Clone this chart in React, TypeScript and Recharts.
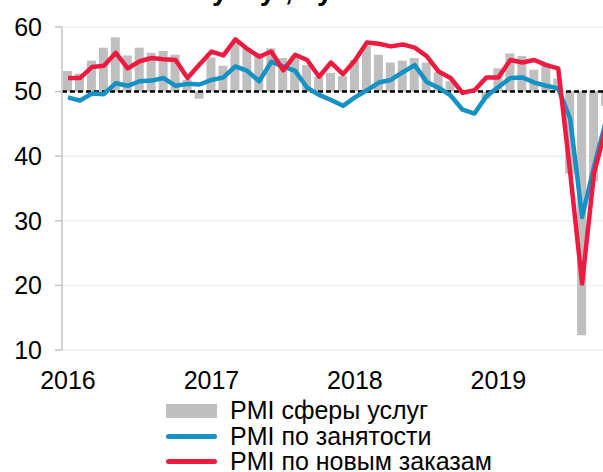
import React from 'react';
import { ComposedChart, Bar, Line, XAxis, YAxis, CartesianGrid, ReferenceLine, Legend } from 'recharts';

const months: string[] = [
  '2016-01','2016-02','2016-03','2016-04','2016-05','2016-06','2016-07','2016-08','2016-09','2016-10','2016-11','2016-12',
  '2017-01','2017-02','2017-03','2017-04','2017-05','2017-06','2017-07','2017-08','2017-09','2017-10','2017-11','2017-12',
  '2018-01','2018-02','2018-03','2018-04','2018-05','2018-06','2018-07','2018-08','2018-09','2018-10','2018-11','2018-12',
  '2019-01','2019-02','2019-03','2019-04','2019-05','2019-06','2019-07','2019-08','2019-09','2019-10',
];

const yearTicks: string[] = ['2016-01', '2017-01', '2018-01', '2019-01'];
const yTicks: number[] = [10, 20, 30, 40, 50, 60];

const services: number[] = [
  53.2, 52.8, 54.8, 56.8, 58.4, 55.6, 56.8, 56.0, 56.3, 55.7, 51.8, 48.9,
  55.3, 54.0, 57.6, 56.7, 55.9, 56.7, 55.2, 55.6, 54.1, 52.3, 52.9, 52.4,
  54.9, 57.1, 55.7, 54.5, 54.8, 55.2, 54.5, 53.0, 51.6, 50.2, 50.4, 48.9,
  53.6, 55.9, 55.5, 53.4, 54.4, 52.0, 37.3, 12.3, 36.1, 47.8,
];

const employment: number[] = [
  49.1, 48.6, 49.7, 49.6, 51.3, 50.9, 51.6, 51.7, 52.1, 50.9, 51.2, 51.1,
  51.8, 52.2, 53.9, 53.2, 51.6, 54.6, 53.9, 53.2, 50.6, 49.5, 48.7, 47.8,
  49.1, 50.2, 51.4, 51.8, 53.0, 54.1, 51.5, 50.6, 49.4, 47.2, 46.6, 49.3,
  50.7, 52.1, 52.2, 51.4, 50.9, 50.5, 45.8, 30.6, 38.4, 45.5,
];

const newOrders: number[] = [
  52.1, 52.1, 53.8, 54.0, 56.0, 53.6, 54.7, 55.2, 55.0, 54.9, 52.1, 54.2,
  56.2, 55.6, 58.1, 56.6, 55.4, 56.2, 53.3, 55.7, 54.9, 52.3, 54.5, 52.7,
  54.8, 57.6, 57.4, 57.0, 57.3, 56.8, 55.5, 53.1, 52.1, 49.8, 50.2, 52.2,
  52.2, 54.9, 54.5, 54.9, 54.1, 53.6, 37.5, 20.3, 37.4, 44.5,
];

const seriesNames = {
  services: 'PMI сферы услуг',
  employment: 'PMI по занятости',
  newOrders: 'PMI по новым заказам',
};

const COLORS = {
  services: '#bfbfbf',
  employment: '#1591c4',
  newOrders: '#ee1a40',
};

const data = months.map((m, i) => ({
  month: m,
  services: [50, services[i]] as [number, number],
  employment: employment[i],
  newOrders: newOrders[i],
}));

const FONT = '"Liberation Sans", Arial, Helvetica, sans-serif';

const legendRows = [
  { key: 'services', kind: 'bar' },
  { key: 'employment', kind: 'line' },
  { key: 'newOrders', kind: 'line' },
] as const;

const renderLegend = () => (
  <div style={{ fontFamily: FONT, fontSize: 25, color: '#000' }}>
    {legendRows.map((r) => (
      <div key={r.key} style={{ display: 'flex', alignItems: 'center', height: 25.5, lineHeight: '25.5px', whiteSpace: 'nowrap' }}>
        <div style={{ width: 51, display: 'flex', alignItems: 'center' }}>
          {r.kind === 'bar' ? (
            <div style={{ width: 51, height: 14, background: COLORS[r.key] }} />
          ) : (
            <div style={{ width: 51, height: 5, borderRadius: 3, background: COLORS[r.key] }} />
          )}
        </div>
        <span style={{ marginLeft: 13 }}>{seriesNames[r.key]}</span>
      </div>
    ))}
  </div>
);

export default function App() {
  return (
    <div style={{ position: 'fixed', left: 0, top: 0, width: 603, height: 472, overflow: 'hidden', background: '#fff' }}>
      <div
        style={{
          position: 'absolute', left: 212, top: -23, fontFamily: FONT, fontWeight: 'bold',
          fontSize: 28, lineHeight: '28px', whiteSpace: 'nowrap', color: '#000',
        }}
      >
        услуг, пункты
      </div>
      <ComposedChart
        width={640}
        height={472}
        data={data}
        margin={{ top: 27, right: 28, bottom: 82, left: 0 }}
        barSize={9}
      >
        <CartesianGrid horizontal vertical={false} stroke="#efefef" strokeWidth={1.5} />
        <XAxis
          dataKey="month"
          ticks={yearTicks}
          interval={0}
          tickFormatter={(m: string) => m.slice(0, 4)}
          axisLine={false}
          tickLine={false}
          tickSize={0}
          tickMargin={21}
          height={40}
          tick={{ fill: '#000', fontSize: 25, fontFamily: FONT }}
        />
        <YAxis
          type="number"
          domain={[10, 60]}
          ticks={yTicks}
          interval={0}
          allowDataOverflow
          width={62}
          axisLine={{ stroke: '#c3c3c3', strokeWidth: 1.5 }}
          tickLine={{ stroke: '#c3c3c3', strokeWidth: 1.5 }}
          tickSize={7}
          tickMargin={13}
          tick={{ fill: '#000', fontSize: 25, fontFamily: FONT }}
        />
        <Bar dataKey="services" name={seriesNames.services} fill={COLORS.services} isAnimationActive={false} />
        <ReferenceLine y={50} stroke="#000" strokeWidth={2.5} strokeDasharray="5 3" />
        <Line
          type="linear"
          dataKey="employment"
          name={seriesNames.employment}
          stroke={COLORS.employment}
          strokeWidth={4.5}
          dot={false}
          strokeLinejoin="round"
          isAnimationActive={false}
        />
        <Line
          type="linear"
          dataKey="newOrders"
          name={seriesNames.newOrders}
          stroke={COLORS.newOrders}
          strokeWidth={4.5}
          dot={false}
          strokeLinejoin="round"
          isAnimationActive={false}
        />
        <Legend
          layout="vertical"
          align="center"
          verticalAlign="middle"
          wrapperStyle={{ top: 398, left: 166, width: 420, height: 80 }}
          content={renderLegend}
        />
      </ComposedChart>
    </div>
  );
}
